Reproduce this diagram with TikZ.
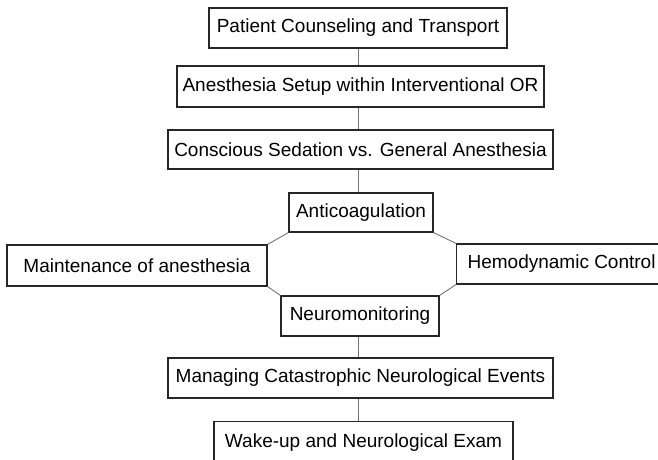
\documentclass[tikz,border=0pt]{standalone}
\usepackage{fontspec}
\setmainfont{Liberation Sans}
\begin{document}
\begin{tikzpicture}[x=1pt,y=-1pt,
  box/.style={draw=black!85, line width=1.2pt, inner sep=0pt, fill=white,
    font=\fontsize{19}{22}\selectfont},
  link/.style={draw=black!55, line width=0.9pt}]
\useasboundingbox[fill=white] (0,0) rectangle (658,459);
\node[box, minimum width=298, minimum height=40] (b1) at (358,28) {Patient Counseling and Transport};
\node[box, minimum width=367, minimum height=41] (b2) at (360.5,86.5) {Anesthesia Setup within Interventional OR};
\node[box, minimum width=385, minimum height=39] (b3) at (360.5,149.5) {Conscious Sedation vs. General Anesthesia};
\node[box, minimum width=144, minimum height=39] (ac) at (361,212.5) {Anticoagulation};
\node[box, minimum width=260, minimum height=41] (ma) at (137,265.5) {Maintenance of anesthesia};
\node[box, minimum height=40, inner xsep=11pt, anchor=west] (hc) at (456,264) {Hemodynamic Control};
\node[box, minimum width=158, minimum height=40] (nm) at (360,316) {Neuromonitoring};
\node[box, minimum width=385, minimum height=40] (b4) at (360.5,378) {Managing Catastrophic Neurological Events};
\node[box, minimum width=299, minimum height=42, anchor=north] (b5) at (363.5,421) {Wake-up and Neurological Exam};
\coordinate (sp) at (358,0);
\draw[link] (b1.south -| sp) -- (b2.north -| sp);
\draw[link] (b2.south -| sp) -- (b3.north -| sp);
\draw[link] (b3.south -| sp) -- (ac.north -| sp);
\draw[link] (nm.south -| sp) -- (b4.north -| sp);
\draw[link] (b4.south -| sp) -- (b5.north -| sp);
\draw[link] (ac.south west) -- (ma.north east);
\draw[link] (ma.south east) -- (nm.north west);
\draw[link] (ac.south east) -- (hc.north west);
\draw[link] (hc.south west) -- (nm.north east);
\end{tikzpicture}
\end{document}
